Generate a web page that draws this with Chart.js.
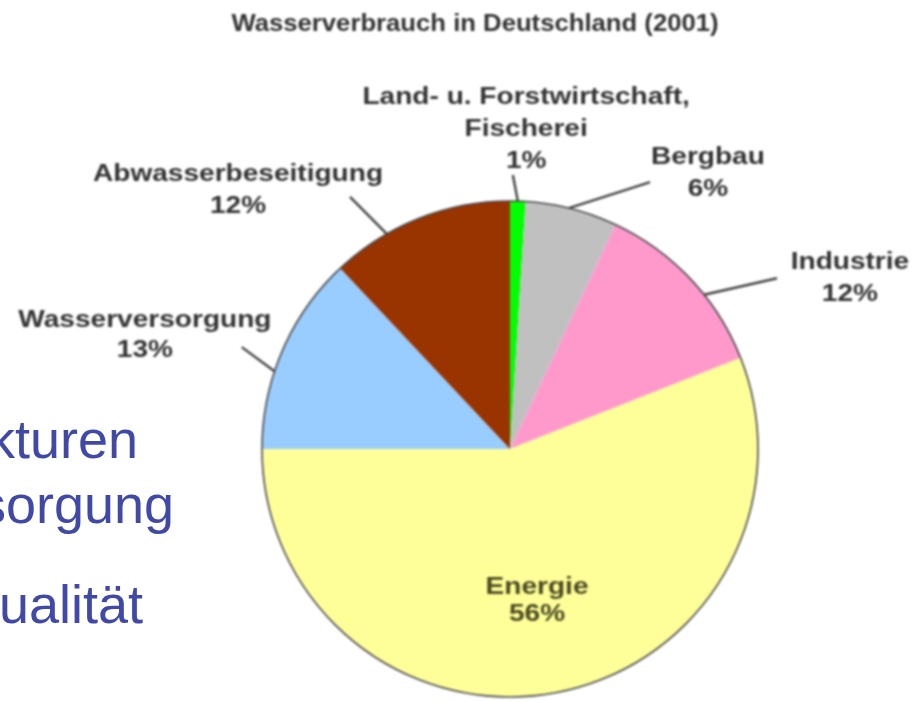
<!DOCTYPE html>
<html lang="de">
<head>
<meta charset="utf-8">
<title>Wasserverbrauch in Deutschland (2001)</title>
<script src="https://cdn.jsdelivr.net/npm/chart.js@4.4.1/dist/chart.umd.min.js"></script>
<style>
  html, body { margin: 0; padding: 0; background: #fff; overflow: hidden; }
  #wrap { position: relative; width: 917px; height: 702px; overflow: hidden; }
  #waterChart { position: absolute; left: 0; top: 0; filter: blur(1.3px); }
  .slide-text {
    position: absolute;
    font-family: Arial, "Liberation Sans", sans-serif;
    font-size: 54px;
    line-height: 54px;
    color: #4048a8;
    white-space: nowrap;
  }
</style>
</head>
<body>
<div id="wrap">
  <canvas id="waterChart" width="917" height="702"></canvas>
  <div class="slide-text" style="left:-12px; top:412px;">kturen</div>
  <div class="slide-text" style="left:-21px; top:477px;">sorgung</div>
  <div class="slide-text" style="left:-1px; top:577px;">ualität</div>
</div>
<script>
// Daten
const chartTitle = 'Wasserverbrauch in Deutschland (2001)';
const categories = ['Land- u. Forstwirtschaft, Fischerei', 'Bergbau', 'Industrie', 'Energie', 'Wasserversorgung', 'Abwasserbeseitigung'];
const labelLines = [['Land- u. Forstwirtschaft,', 'Fischerei'], ['Bergbau'], ['Industrie'], ['Energie'], ['Wasserversorgung'], ['Abwasserbeseitigung']];
const shares = [1, 6, 12, 56, 13, 12];
const sliceColors = ['#00ff00', '#c0c0c0', '#ff99cc', '#ffff99', '#99ccff', '#993300'];

// Beschriftung: Winkel in Grad ab 12 Uhr im Uhrzeigersinn, r als Vielfaches des Radius
const labelLayout = [
    { attach: 0.5, leader: [0.6, 1.105], text: [2.9, 1.288], lineHeight: 32 },
    { attach: 0.47, leader: [27.7, 1.215], text: [35.75, 1.366], lineHeight: 32 },
    { attach: 0.61, leader: [57.4, 1.278], text: [63.4, 1.533], lineHeight: 32 },
    { attach: null, text: [169.9, 0.622], lineHeight: 27, color: '#4a4a22' },
    { attach: 0.39, leader: [290.8, 1.157], text: [287.3, 1.542], lineHeight: 30 },
    { attach: 0.31, leader: [327.6, 1.204], text: [313.5, 1.512], lineHeight: 32 }
];
const titleAt = { x: 475, y: 24 };

const FONT = '"Liberation Sans", Arial, sans-serif';

function drawStretched(ctx, str, x, y, sx) {
    ctx.save();
    ctx.translate(x, y);
    ctx.scale(sx, 1);
    ctx.fillText(str, 0, 0);
    ctx.restore();
}

function polar(cx, cy, R, deg, r) {
    const a = deg * Math.PI / 180;
    return { x: cx + r * R * Math.sin(a), y: cy - r * R * Math.cos(a) };
}

const pieLabels = {
    id: 'pieLabels',
    afterDatasetsDraw(chart) {
        const ctx = chart.ctx;
        const arcs = chart.getDatasetMeta(0).data;
        const p0 = arcs[0].getProps(['x', 'y', 'outerRadius'], true);
        const cx = p0.x, cy = p0.y, R = p0.outerRadius;

        // Umriss
        ctx.save();
        ctx.beginPath();
        ctx.arc(cx, cy, R, 0, Math.PI * 2);
        ctx.strokeStyle = '#4a4a4a';
        ctx.lineWidth = 1.6;
        ctx.stroke();

        // Titel
        ctx.fillStyle = '#333';
        ctx.font = 'bold 24px ' + FONT;
        ctx.textAlign = 'center';
        ctx.textBaseline = 'middle';
        drawStretched(ctx, chartTitle, titleAt.x, titleAt.y, 1.07);

        ctx.font = 'bold 23px ' + FONT;
        arcs.forEach((arc, i) => {
            const lay = labelLayout[i];
            const p = arc.getProps(['startAngle', 'endAngle'], true);
            if (lay.attach !== null) {
                const th = p.startAngle + lay.attach * (p.endAngle - p.startAngle);
                const end = polar(cx, cy, R, lay.leader[0], lay.leader[1]);
                ctx.beginPath();
                ctx.moveTo(cx + R * Math.cos(th), cy + R * Math.sin(th));
                ctx.lineTo(end.x, end.y);
                ctx.strokeStyle = '#444';
                ctx.lineWidth = 2.4;
                ctx.stroke();
            }
            const lines = labelLines[i].concat([shares[i] + '%']);
            const c = polar(cx, cy, R, lay.text[0], lay.text[1]);
            const top = c.y - (lines.length - 1) * lay.lineHeight / 2;
            ctx.fillStyle = lay.color || '#333';
            lines.forEach((ln, k) => drawStretched(ctx, ln, c.x, top + k * lay.lineHeight, 1.22));
        });
        ctx.restore();
    }
};

new Chart(document.getElementById('waterChart'), {
    type: 'pie',
    data: {
        labels: categories,
        datasets: [{
            data: shares,
            backgroundColor: sliceColors,
            borderWidth: 0,
            hoverOffset: 0
        }]
    },
    options: {
        responsive: false,
        animation: false,
        devicePixelRatio: 1,
        layout: { padding: { left: 262, right: 159, top: 201, bottom: 5 } },
        plugins: {
            legend: { display: false },
            title: { display: false },
            tooltip: { enabled: false }
        }
    },
    plugins: [pieLabels]
});
</script>
</body>
</html>
